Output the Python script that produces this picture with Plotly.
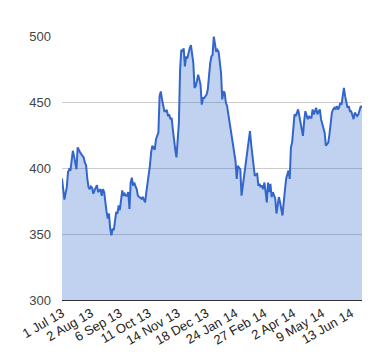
import plotly.graph_objects as go

# Daily closing values (trading days, 1 Jul 2013 - late Jun 2014)
values = [
    392, 383, 376, 381, 385.5, 397, 399, 398, 406, 413,
    409, 402, 399, 415.6, 413, 412, 410.5, 409, 408, 404,
    402, 392, 385.5, 384, 386, 385, 380.5, 383, 385, 387,
    381.7, 383, 384, 379, 384, 381.7, 372, 366.7, 361.7, 365.5,
    354, 349, 354, 353, 360, 366.7, 365.5, 371.7, 368, 375.5,
    383, 379, 380.5, 379, 379, 381.7, 369, 389, 392.6, 386.7,
    389, 386, 384, 379, 378, 377, 376.7, 378, 376, 374,
    381.7, 388, 394, 402, 412, 417, 415, 414, 421.8, 424,
    426.8, 454.4, 458, 452, 447, 443, 443, 444, 439.3, 440.6,
    437, 438, 429.3, 419, 414, 408, 419, 434, 474, 489.5,
    488, 490.7, 477, 484.5, 483, 488, 490.7, 493, 484.5, 479.5,
    460.7, 462, 466, 470.7, 467, 463, 448, 453, 453, 454.4,
    455.6, 459.4, 470, 479.5, 484.5, 485.7, 499.5, 493, 488, 489.5,
    488, 480, 472, 452, 458, 457, 449.4, 447, 440.6, 434.4,
    429.3, 421.8, 415, 409, 405.5, 391.7, 401.7, 400, 399, 379,
    386, 393, 400.5, 408, 415.6, 423, 428, 418, 409, 399,
    394, 395, 395.5, 386.7, 388, 385.5, 386.7, 384, 389, 381.7,
    374, 389, 381.7, 388, 378, 381.7, 379, 376.7, 365.5, 370.5,
    378, 374, 369, 364, 374, 384, 391.7, 395, 398, 391.7,
    415.6, 419.3, 434.4, 440.6, 439.3, 443, 444.4, 439.3, 434.4, 430.6,
    424.3, 435.6, 443, 440, 437, 439.3, 438, 438, 444.4, 440.6,
    443, 445.6, 440.6, 442, 444.4, 437, 433, 430, 426.8, 417,
    418, 419.3, 425.6, 435.6, 441.9, 444.4, 445.6, 444.4, 447, 444.4,
    446, 449.4, 448, 454.4, 460.7, 454.4, 448, 445.6, 447, 443,
    443, 440.6, 437, 441.9, 440.6, 439.3, 440.6, 443, 447, 445.6,
]

# Category labels shown every 24th trading day
tick_labels = ["1 Jul 13", "2 Aug 13", "6 Sep 13", "11 Oct 13", "14 Nov 13",
               "18 Dec 13", "24 Jan 14", "27 Feb 14", "2 Apr 14", "9 May 14",
               "13 Jun 14"]
label_step = 24
y_ticks = [300, 350, 400, 450, 500]

x_idx = list(range(len(values)))
tick_pos = [i * label_step for i in range(len(tick_labels))]

fig = go.Figure()
fig.add_trace(go.Scatter(
    x=x_idx, y=values, mode="lines",
    line=dict(color="#3366cc", width=2),
    fill="tozeroy", fillcolor="rgba(51,102,204,0.3)",
    hoverinfo="skip",
))

font_family = "Liberation Sans, Arial, sans-serif"
fig.update_layout(
    width=372, height=352,
    margin=dict(l=50, r=18, t=28, b=58),
    paper_bgcolor="white", plot_bgcolor="white",
    showlegend=False,
    font=dict(family=font_family, size=13, color="#222222"),
    xaxis=dict(
        range=[0, len(values) - 1],
        tickmode="array", tickvals=tick_pos, ticktext=tick_labels,
        tickangle=-30, showgrid=False, zeroline=False,
        showline=True, linecolor="#333333", linewidth=1,
        ticks="", tickfont=dict(size=13, color="#222222"),
    ),
    yaxis=dict(
        range=[300, 500], tickmode="array", tickvals=y_ticks,
        showgrid=True, gridcolor="#cccccc", gridwidth=1,
        zeroline=False, showline=False, ticks="",
        ticklabelstandoff=10,
        tickfont=dict(size=13, color="#444444"),
    ),
)

fig.write_html("out.html")
